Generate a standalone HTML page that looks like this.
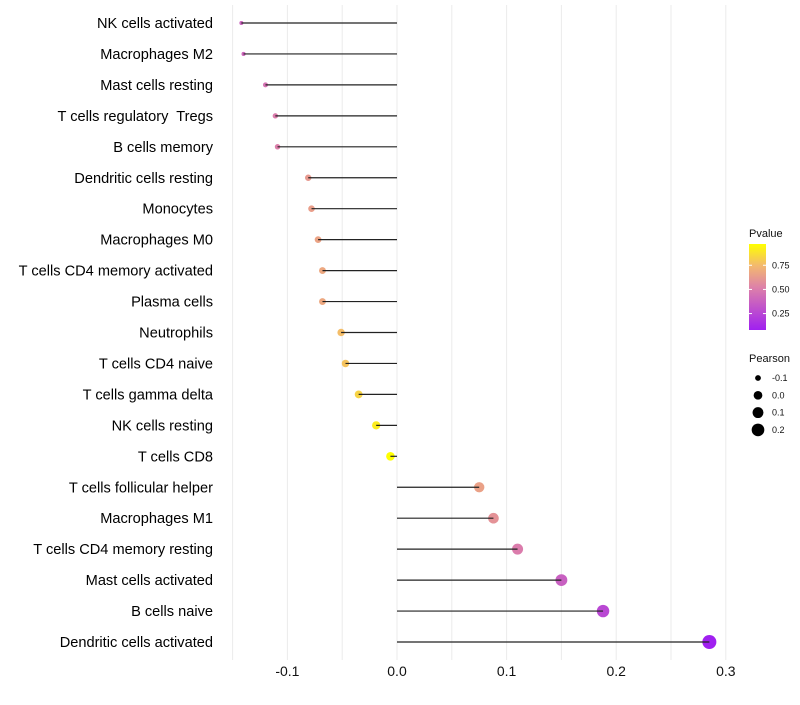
<!DOCTYPE html>
<html><head><meta charset="utf-8"><style>
body{margin:0;background:#fff;font-family:"Liberation Sans",sans-serif}
svg text{font-family:"Liberation Sans",sans-serif;white-space:pre}
</style></head><body>
<svg id="c" width="800" height="700"></svg>
<script>
const categories=["NK cells activated","Macrophages M2","Mast cells resting","T cells regulatory  Tregs","B cells memory","Dendritic cells resting","Monocytes","Macrophages M0","T cells CD4 memory activated","Plasma cells","Neutrophils","T cells CD4 naive","T cells gamma delta","NK cells resting","T cells CD8","T cells follicular helper","Macrophages M1","T cells CD4 memory resting","Mast cells activated","B cells naive","Dendritic cells activated"];
const pearson=[-0.142,-0.140,-0.120,-0.111,-0.109,-0.081,-0.078,-0.072,-0.068,-0.068,-0.051,-0.047,-0.035,-0.019,-0.006,0.075,0.088,0.110,0.150,0.188,0.285];
const pvalue=[0.39,0.40,0.46,0.50,0.51,0.62,0.64,0.66,0.68,0.68,0.76,0.78,0.83,0.91,0.97,0.65,0.59,0.50,0.37,0.26,0.08];
const xTicks=[-0.1,0.0,0.1,0.2,0.3];
const xTickLabels=["-0.1","0.0","0.1","0.2","0.3"];
const pTicks=[0.25,0.50,0.75];
const sizeTicks=[-0.1,0.0,0.1,0.2];
const sizeLabels=["-0.1","0.0","0.1","0.2"];

const NS="http://www.w3.org/2000/svg";
const svg=document.getElementById('c');
function el(t,a,p){const e=document.createElementNS(NS,t);for(const k in a)e.setAttribute(k,a[k]);(p||svg).appendChild(e);return e;}
const x=v=>397+v*1096;
const y=i=>23+i*30.95;
const rad=v=>Math.sqrt(Math.max(1,19+105.4*v));
const stops=[[0,[160,32,240]],[0.5,[222,130,168]],[0.75,[243,185,110]],[1,[255,255,0]]];
function col(p){let t=(p-0.08)/(0.97-0.08);t=Math.max(0,Math.min(1,t));
 for(let i=1;i<stops.length;i++){if(t<=stops[i][0]){const a=stops[i-1],b=stops[i];const f=(t-a[0])/(b[0]-a[0]);
 const c=a[1].map((v,j)=>Math.round(v+(b[1][j]-v)*f));return `rgb(${c})`;}}return 'rgb(255,255,0)';}

const grid=el('g',{});


for(let v=-0.15;v<=0.301;v+=0.05){el('line',{x1:x(v),x2:x(v),y1:5,y2:660,stroke:'#ebebeb','stroke-width':1},grid);}
xTicks.forEach((v,i)=>{const t=el('text',{x:x(v),y:676,'text-anchor':'middle','font-size':14,fill:'#111'});t.textContent=xTickLabels[i];
 
 });
categories.forEach((c,i)=>{
 const t=el('text',{x:213,y:y(i)+5,'text-anchor':'end','font-size':14.6,fill:'#000'});t.textContent=c;
 
 
 const p=el('circle',{cx:x(pearson[i]),cy:y(i),r:rad(pearson[i]),fill:col(pvalue[i])});
 
 
 const l=el('line',{x1:x(0),x2:x(pearson[i]),y1:y(i),y2:y(i),stroke:'#222','stroke-width':1.2});
 
 
});
const defs=el('defs',{});
const lg=el('linearGradient',{id:'pg',x1:0,y1:1,x2:0,y2:0},defs);
stops.forEach(s=>el('stop',{offset:s[0],'stop-color':`rgb(${s[1]})`},lg));
const lt=el('text',{x:749,y:237,'font-size':11,fill:'#111'});lt.textContent='Pvalue';


const bar=el('rect',{x:749,y:244,width:17,height:86,fill:'url(#pg)'});


const py=p=>330-(p-0.08)/(0.97-0.08)*86;
pTicks.forEach(p=>{el('line',{x1:749,x2:752,y1:py(p),y2:py(p),stroke:'#fff'});el('line',{x1:763,x2:766,y1:py(p),y2:py(p),stroke:'#fff'});
 const t=el('text',{x:772,y:py(p)+3,'font-size':9,fill:'#111'});t.textContent=p.toFixed(2);
 
 });
const st=el('text',{x:749,y:362,'font-size':11,fill:'#111'});st.textContent='Pearson';


sizeTicks.forEach((v,i)=>{const cy=378+i*17.3;
 const c=el('circle',{cx:758,cy:cy,r:rad(v),fill:'#000'});
 
 
 const t=el('text',{x:772,y:cy+3,'font-size':9,fill:'#111'});t.textContent=sizeLabels[i];
 
 });
</script>
</body></html>
